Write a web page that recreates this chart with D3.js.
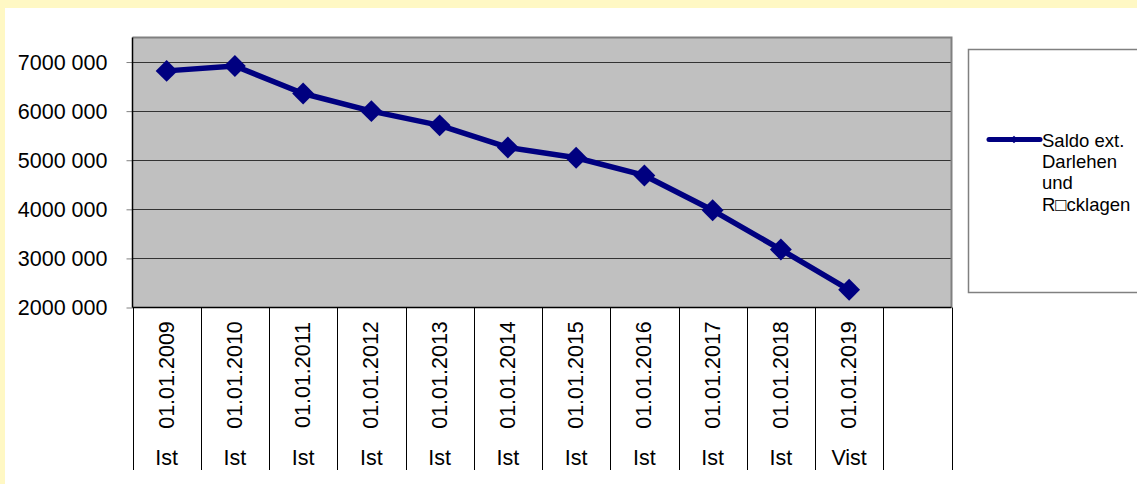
<!DOCTYPE html>
<html><head><meta charset="utf-8">
<script src="https://cdn.jsdelivr.net/npm/d3@7"></script>
<style>
html,body{margin:0;padding:0;background:#FFF8C4;}
svg{display:block;}
text{font-family:"Liberation Sans",Arial,sans-serif;fill:#000;}
</style></head><body>
<svg id="c" width="1137" height="484"></svg>
<script>
const dates = ["01.01.2009","01.01.2010","01.01.2011","01.01.2012","01.01.2013","01.01.2014","01.01.2015","01.01.2016","01.01.2017","01.01.2018","01.01.2019",""];
const kinds = ["Ist","Ist","Ist","Ist","Ist","Ist","Ist","Ist","Ist","Ist","Vist",""];
const values = [6820000,6920000,6360000,6000000,5710000,5260000,5050000,4690000,3980000,3180000,2360000];
const yTicks = [2000000,3000000,4000000,5000000,6000000,7000000];
const seriesName = ["Saldo ext.","Darlehen","und","R\u25A1cklagen"];

const svg = d3.select("#c");
svg.append("rect").attr("x",5).attr("y",8).attr("width",1132).attr("height",476).attr("fill","#fff");

const L=132.5, R=951.5, T=37.5, B=307.5;
const x = d3.scaleBand().domain(d3.range(dates.length)).range([L,R]);
const y = d3.scaleLinear().domain([2000000,7500000]).range([B,T]);
const FS = "21.5px";

svg.append("rect").attr("x",L).attr("y",T).attr("width",R-L).attr("height",B-T).attr("fill","#C0C0C0");

// gridlines
svg.append("g").selectAll("line").data(yTicks.slice(1)).join("line")
  .attr("x1",L).attr("x2",R).attr("y1",d=>Math.round(y(d))+0.5).attr("y2",d=>Math.round(y(d))+0.5)
  .attr("stroke","#333").attr("stroke-width",1);

// top/right border
svg.append("path").attr("d",`M${L},${T}H${R}V${B}`).attr("fill","none").attr("stroke","#808080").attr("stroke-width",2);

// y axis
const fmt = d => { const s = String(d); return s.slice(0,s.length-3)+" "+s.slice(-3); };
const ya = svg.append("g").attr("transform",`translate(${L},0)`)
  .call(d3.axisLeft(y).tickValues(yTicks).tickSize(6).tickPadding(19).tickFormat(fmt));
ya.select(".domain").remove();
ya.selectAll(".tick line").attr("stroke","#808080");
ya.selectAll("text").style("font-size",FS).style("font-family","Liberation Sans, Arial, sans-serif").attr("fill","#000").attr("dy","0.34em");
svg.append("line").attr("x1",L).attr("x2",L).attr("y1",T).attr("y2",B).attr("stroke","#000").attr("stroke-width",1.5);

// x axis (multi-level)
svg.append("line").attr("x1",L).attr("x2",R).attr("y1",B).attr("y2",B).attr("stroke","#000").attr("stroke-width",1.5);
const bounds = d3.range(dates.length+1).map(i=> i<dates.length? x(i) : R);
svg.append("g").selectAll("line").data(bounds).join("line")
  .attr("x1",d=>Math.round(d)+0.5).attr("x2",d=>Math.round(d)+0.5).attr("y1",B).attr("y2",470)
  .attr("stroke","#000").attr("stroke-width",1);
svg.append("g").selectAll("text").data(dates).join("text")
  .attr("transform",(d,i)=>`translate(${x(i)+x.bandwidth()/2+7},375) rotate(-90)`)
  .attr("text-anchor","middle").style("font-size",FS).text(d=>d);
svg.append("g").selectAll("text").data(kinds).join("text")
  .attr("x",(d,i)=>x(i)+x.bandwidth()/2).attr("y",465)
  .attr("text-anchor","middle").style("font-size",FS).text(d=>d);

// line
const cx = i => x(i)+x.bandwidth()/2;
svg.append("path").datum(values)
  .attr("d",d3.line().x((d,i)=>cx(i)).y(d=>y(d)))
  .attr("fill","none").attr("stroke","#000080").attr("stroke-width",5.5).attr("stroke-linejoin","round");
svg.append("g").selectAll("path").data(values).join("path")
  .attr("transform",(d,i)=>`translate(${cx(i)},${y(d)}) rotate(45)`)
  .attr("d",d3.symbol().type(d3.symbolSquare).size(240))
  .attr("fill","#000080");

// legend
svg.append("rect").attr("x",968.5).attr("y",49.5).attr("width",200).attr("height",243).attr("fill","#fff").attr("stroke","#808080").attr("stroke-width",1.5);
svg.append("line").attr("x1",989).attr("x2",1040).attr("y1",139.5).attr("y2",139.5).attr("stroke","#000080").attr("stroke-width",5).attr("stroke-linecap","round");
svg.append("path").attr("transform","translate(1014,139.5) rotate(45)").attr("d",d3.symbol().type(d3.symbolSquare).size(30)).attr("fill","#000080");
svg.append("g").selectAll("text").data(seriesName).join("text")
  .attr("x",1042).attr("y",(d,i)=>147+i*21.2).style("font-size","18.5px").text(d=>d);
</script>
</body></html>
